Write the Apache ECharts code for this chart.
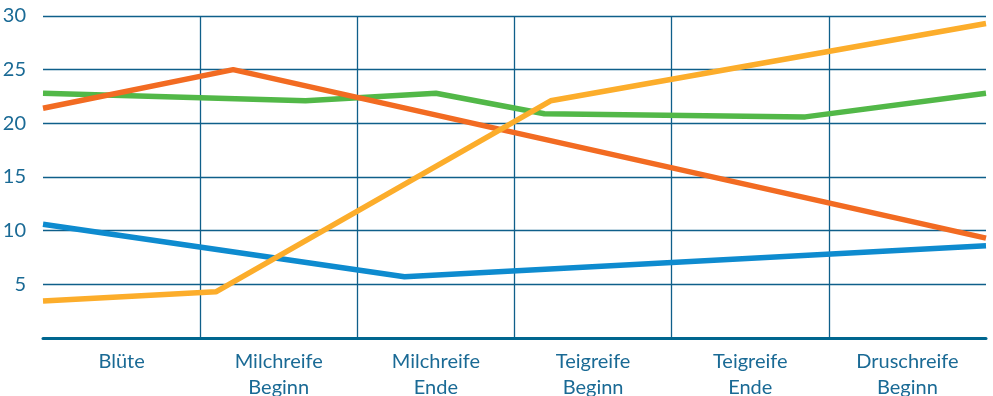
<!DOCTYPE html>
<html>
<head>
<meta charset="utf-8">
<script src="https://cdn.jsdelivr.net/npm/echarts@6/dist/echarts.min.js"></script>
<style>
  html, body { margin: 0; padding: 0; background: #fff; }
  #chart { width: 993px; height: 396px; }
</style>
</head>
<body>
<div id="chart"></div>
<script>
// Categories along the x axis (one per 1.0 on the hidden position axis)
const categories = ['Blüte', 'Milchreife\nBeginn', 'Milchreife\nEnde', 'Teigreife\nBeginn', 'Teigreife\nEnde', 'Druschreife\nBeginn']
const yTicks = [0, 5, 10, 15, 20, 25, 30]

// Series values: x = position in category units (0..6), y = value
const blueX = [0, 2.3, 6]
const blueY = [10.6, 5.7, 8.6]
const orangeX = [0, 1.21, 6]
const orangeY = [21.4, 25.0, 9.3]
const greenX = [0, 1.67, 2.5, 3.19, 4.85, 6]
const greenY = [22.8, 22.1, 22.8, 20.9, 20.6, 22.8]
const yellowX = [0, 1.1, 3.23, 6]
const yellowY = [3.45, 4.3, 22.1, 29.3]

const gridColor = '#0f5f8a'
const textColor = '#1a6a95'
const font = 'Lato'

const pairs = (xs, ys) => xs.map((x, i) => [x, ys[i]])

const chart = echarts.init(document.getElementById('chart'))

// Build one line series
const line = (name, xs, ys, color) => ({
  name,
  type: 'line',
  xAxisIndex: 1,
  data: pairs(xs, ys),
  symbol: 'none',
  lineStyle: { width: 5.5, color },
  itemStyle: { color }
})

chart.setOption({
  animation: false,
  grid: { left: 43, right: 7, top: 16, bottom: 58, outerBoundsMode: 'none', containLabel: false },
  xAxis: [
    {
      type: 'category',
      data: categories,
      boundaryGap: true,
      axisLine: { lineStyle: { color: '#00668f', width: 3 } },
      axisTick: { show: false },
      splitLine: { show: false },
      axisLabel: {
        color: textColor,
        fontFamily: font,
        fontSize: 20,
        lineHeight: 26,
        margin: 11,
        interval: 0
      }
    },
    {
      type: 'value',
      min: 0,
      max: categories.length,
      interval: 1,
      show: true,
      axisLine: { show: false },
      axisTick: { show: false },
      axisLabel: { show: false },
      splitLine: {
        show: true,
        showMinLine: false,
        showMaxLine: false,
        lineStyle: { color: gridColor, width: 1.3 }
      }
    }
  ],
  yAxis: {
    type: 'value',
    min: yTicks[0],
    max: yTicks[yTicks.length - 1],
    interval: 5,
    axisLine: { show: false },
    axisTick: { show: false },
    axisLabel: {
      color: textColor,
      fontFamily: font,
      fontSize: 20,
      margin: 17,
      formatter: v => (v === 0 ? '' : String(v))
    },
    splitLine: { lineStyle: { color: gridColor, width: 1.3 } }
  },
  series: [
    line('Blau', blueX, blueY, '#0e8bcf'),
    line('Grün', greenX, greenY, '#52b848'),
    line('Orange', orangeX, orangeY, '#f26b22'),
    line('Gelb', yellowX, yellowY, '#fcad2b')
  ]
})
</script>
</body>
</html>
